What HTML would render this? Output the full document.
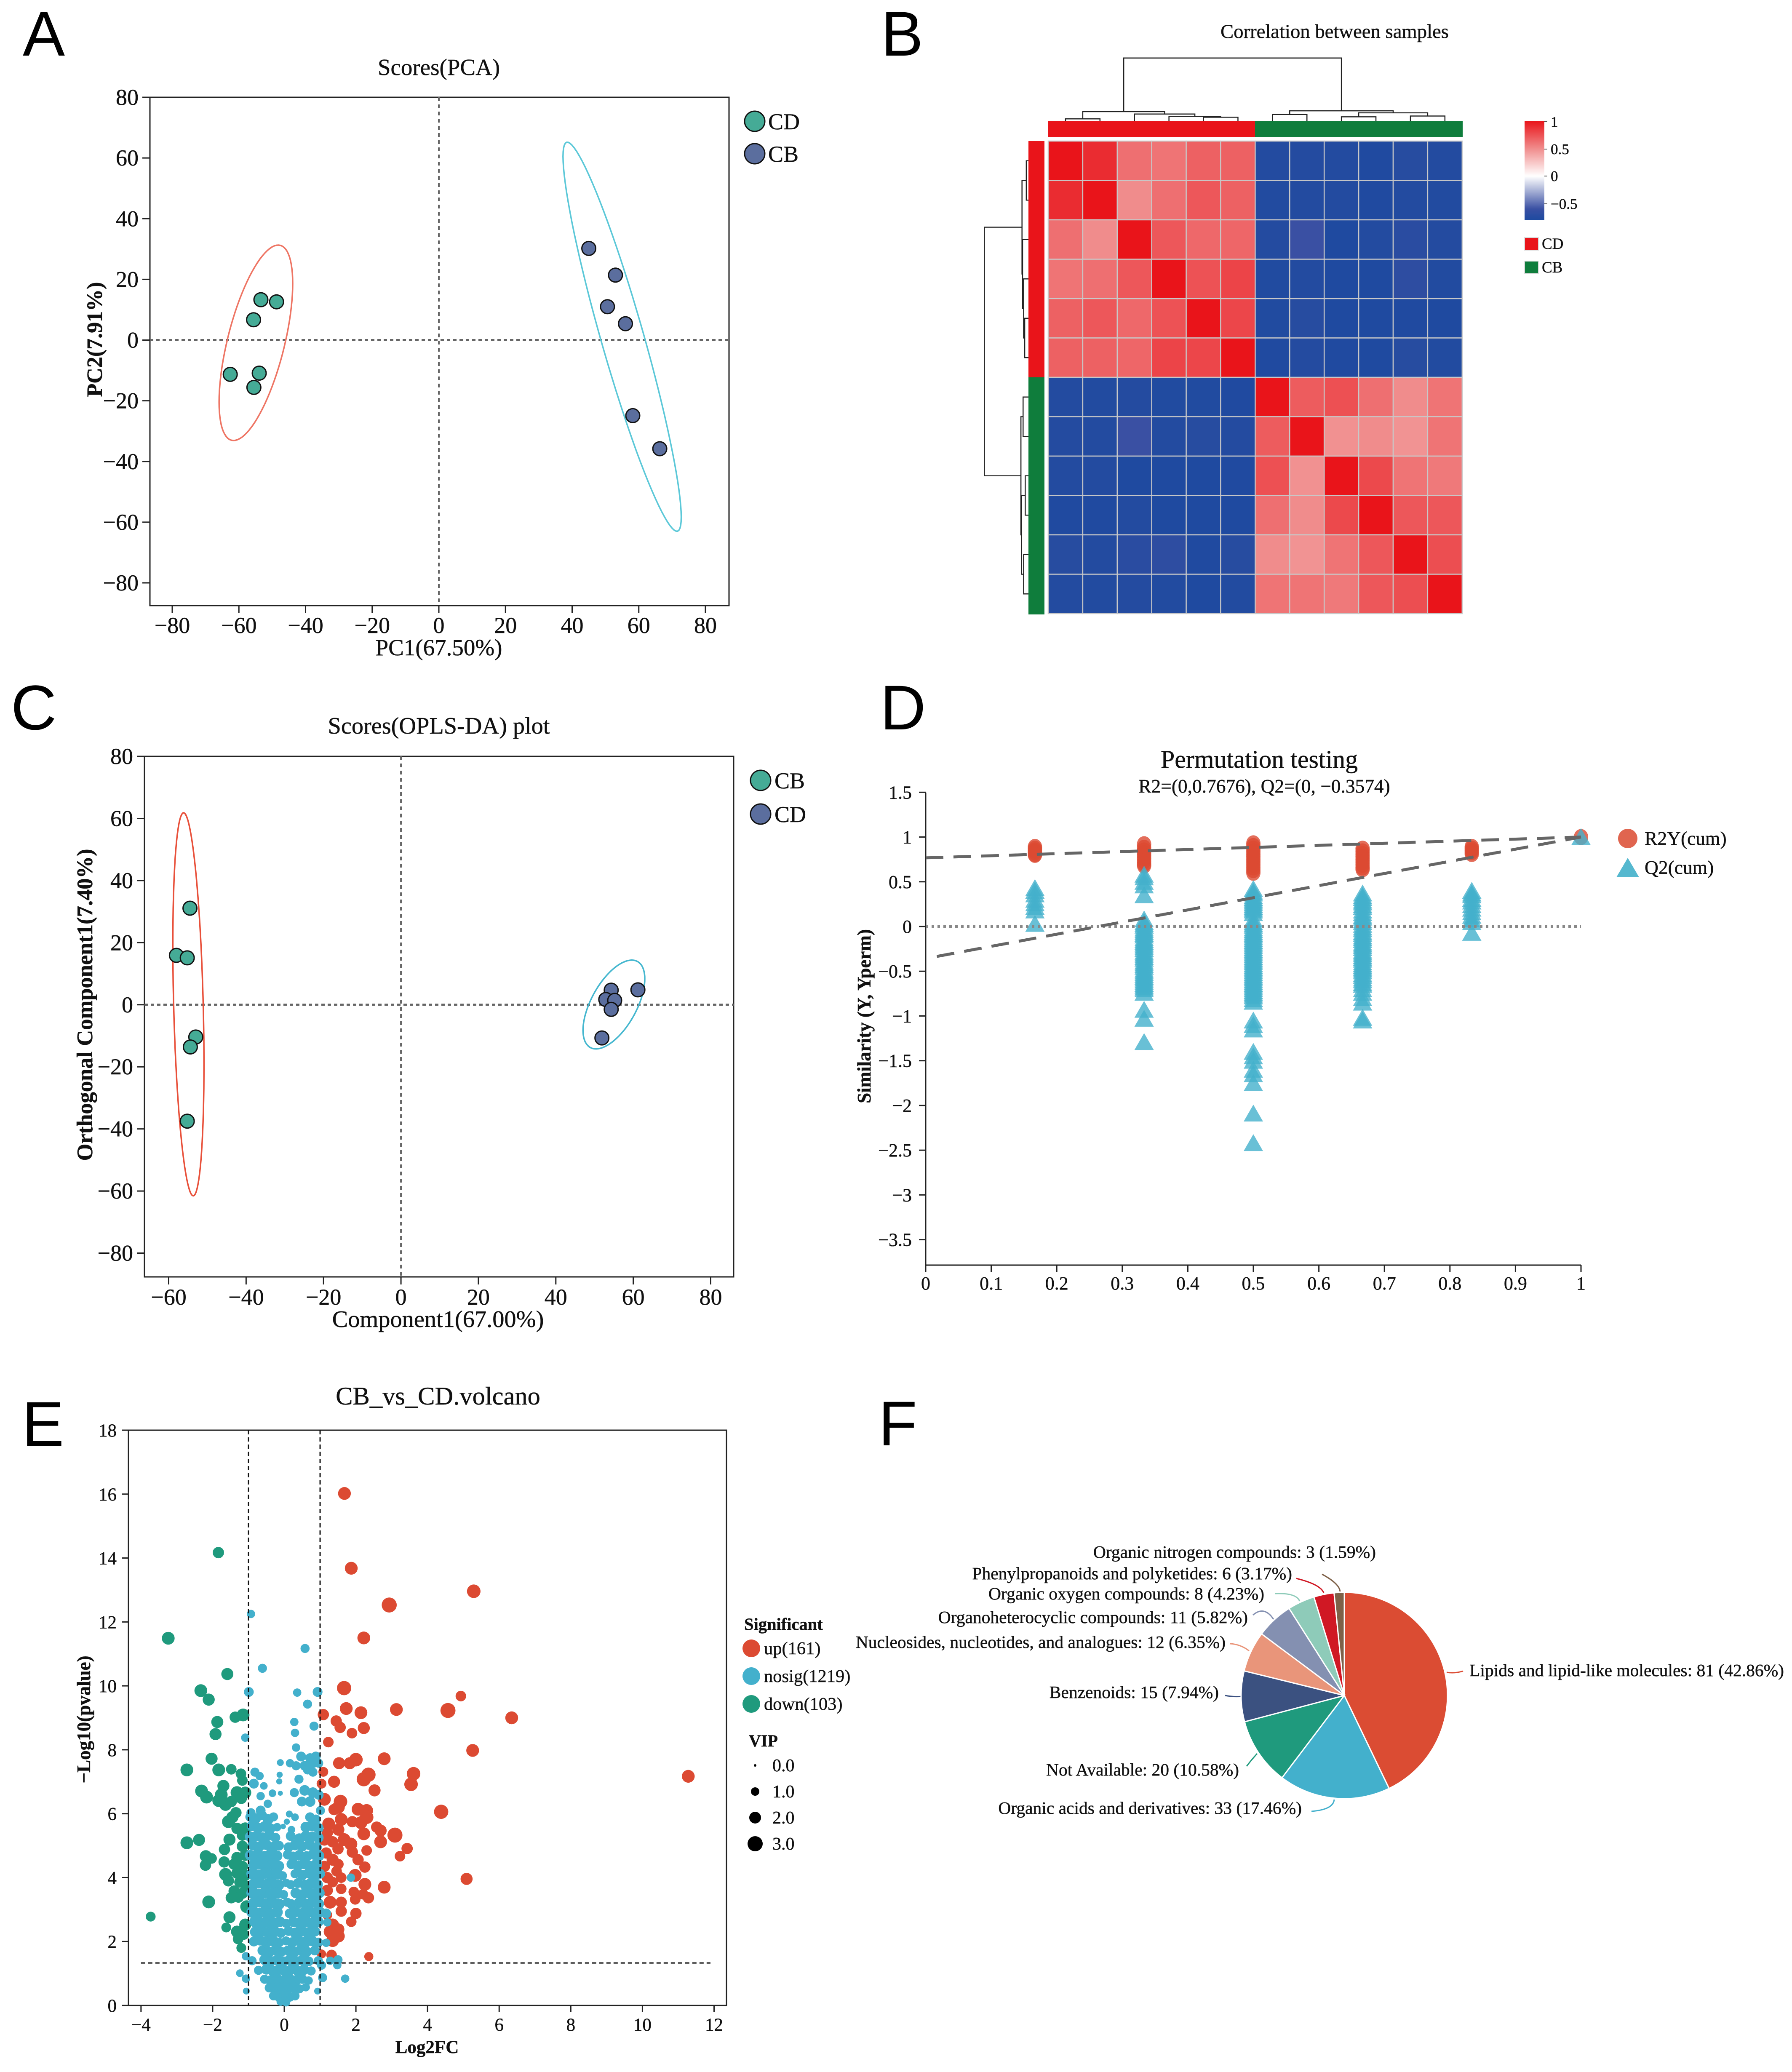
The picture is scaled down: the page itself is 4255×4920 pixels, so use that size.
<!DOCTYPE html>
<html lang="en">
<head>
<meta charset="utf-8">
<title>Metabolomics multi-panel figure</title>
<style>
html,body{margin:0;padding:0;background:#fff;}
svg{display:block;}
text{font-family:"Liberation Serif","Noto Serif CJK SC",serif;fill:#111;stroke:#111;stroke-width:0.5px;}
.letter{font-family:"Liberation Sans","Noto Sans CJK SC",sans-serif;font-size:150px;fill:#000;stroke:none;}
</style>
</head>
<body>
<svg id="figure" xmlns="http://www.w3.org/2000/svg" width="4255" height="4920" viewBox="0 0 4255 4920">
<rect x="0" y="0" width="4255" height="4920" fill="#fff"/>
<defs>
<linearGradient id="cbGrad" x1="0" y1="0" x2="0" y2="1">
<stop offset="0" stop-color="#e9141a"/><stop offset="0.28" stop-color="#f08c8c"/><stop offset="0.558" stop-color="#ffffff"/><stop offset="0.89" stop-color="#3a50a3"/><stop offset="1" stop-color="#1e4aa0"/>
</linearGradient>
</defs>

<!-- Panel A -->
<g id="panelA">
<text class="letter" x="54" y="132">A</text>
<text x="1042" y="178" font-size="55" text-anchor="middle">Scores(PCA)</text>
<rect x="356" y="231" width="1375" height="1207" fill="none" stroke="#222" stroke-width="3"/>
<text x="1042" y="1556" font-size="55" text-anchor="middle">PC1(67.50%)</text>
<text transform="translate(242,806) rotate(-90)" font-size="52" font-weight="bold" text-anchor="middle">PC2(7.91%)</text>
<circle cx="1792" cy="288" r="24" fill="#45ab96" stroke="#111" stroke-width="3"/>
<text x="1824" y="307" font-size="54">CD</text>
<circle cx="1792" cy="365" r="24" fill="#5b6e9e" stroke="#111" stroke-width="3"/>
<text x="1824" y="384" font-size="54">CB</text>
</g>

<!-- Panel B -->
<g id="panelB">
<text class="letter" x="2092" y="132">B</text>
<text x="3169" y="90" font-size="46.7" text-anchor="middle">Correlation between samples</text>
<rect x="2489" y="287" width="491" height="38" fill="#e9141a"/>
<rect x="2980" y="287" width="493" height="38" fill="#0f7d3c"/>
<rect x="2442" y="335" width="38" height="561" fill="#e9141a"/>
<rect x="2442" y="896" width="38" height="563" fill="#0f7d3c"/>
<rect x="3620" y="287" width="47" height="235" fill="url(#cbGrad)"/>
<g stroke="#555" stroke-width="2">
<line x1="3667" x2="3674" y1="289" y2="289"/><line x1="3667" x2="3674" y1="354" y2="354"/><line x1="3667" x2="3674" y1="418" y2="418"/><line x1="3667" x2="3674" y1="484" y2="484"/>
</g>
<text x="3682" y="301" font-size="35">1</text>
<text x="3682" y="366" font-size="35">0.5</text>
<text x="3682" y="430" font-size="35">0</text>
<text x="3682" y="496" font-size="35">−0.5</text>
<rect x="3620" y="564" width="33" height="30" fill="#e9141a" stroke="#ddd" stroke-width="2"/>
<text x="3661" y="591" font-size="37">CD</text>
<rect x="3620" y="620" width="33" height="30" fill="#0f7d3c" stroke="#ddd" stroke-width="2"/>
<text x="3661" y="647" font-size="37">CB</text>
</g>

<!-- Panel C -->
<g id="panelC">
<text class="letter" x="26" y="1732">C</text>
<text x="1042" y="1742" font-size="56.3" text-anchor="middle">Scores(OPLS-DA) plot</text>
<rect x="343" y="1796" width="1399" height="1236" fill="none" stroke="#222" stroke-width="3"/>
<text x="1040" y="3151" font-size="56.4" text-anchor="middle">Component1(67.00%)</text>
<text transform="translate(219,2386) rotate(-90)" font-size="52.5" font-weight="bold" text-anchor="middle">Orthogonal Component1(7.40%)</text>
<circle cx="1806" cy="1853" r="24" fill="#45ab96" stroke="#111" stroke-width="3"/>
<text x="1839" y="1872" font-size="54">CB</text>
<circle cx="1806" cy="1933" r="24" fill="#5b6e9e" stroke="#111" stroke-width="3"/>
<text x="1839" y="1952" font-size="54">CD</text>
</g>

<!-- Panel D -->
<g id="panelD">
<text class="letter" x="2090" y="1732">D</text>
<text x="2990" y="1823" font-size="60" text-anchor="middle">Permutation testing</text>
<text x="3002" y="1882" font-size="45.4" text-anchor="middle">R2=(0,0.7676), Q2=(0, −0.3574)</text>
<line x1="2198" x2="2198" y1="1882" y2="3004" stroke="#222" stroke-width="3"/>
<line x1="2198" x2="3754" y1="3004" y2="3004" stroke="#222" stroke-width="3"/>
<text transform="translate(2067,2413) rotate(-90)" font-size="45" font-weight="bold" text-anchor="middle">Similarity (Y, Yperm)</text>
<circle cx="3865" cy="1991" r="23" fill="#e0654f"/>
<text x="3905" y="2006" font-size="45.5">R2Y(cum)</text>
<polygon points="3865,2037 3892,2083 3838,2083" fill="#55b8cf"/>
<text x="3905" y="2075" font-size="45.5">Q2(cum)</text>
</g>

<!-- Panel E -->
<g id="panelE">
<text class="letter" x="52" y="3433">E</text>
<text x="1040" y="3335" font-size="60.5" text-anchor="middle">CB_vs_CD.volcano</text>
<rect x="305" y="3396" width="1420" height="1366" fill="none" stroke="#222" stroke-width="3"/>
<text x="1014" y="4875" font-size="43" text-anchor="middle" font-weight="bold">Log2FC</text>
<text transform="translate(214,4083) rotate(-90)" font-size="45" font-weight="bold" text-anchor="middle">−Log10(pvalue)</text>
<text x="1767" y="3870" font-size="40.5" font-weight="bold">Significant</text>
<circle cx="1784" cy="3914" r="21" fill="#dc4a32"/>
<text x="1814" y="3928" font-size="42.5">up(161)</text>
<circle cx="1784" cy="3980" r="21" fill="#43b0cc"/>
<text x="1814" y="3994" font-size="42.5">nosig(1219)</text>
<circle cx="1784" cy="4046" r="21" fill="#1f9a7d"/>
<text x="1814" y="4060" font-size="42.5">down(103)</text>
<text x="1778" y="4147" font-size="40" font-weight="bold">VIP</text>
<circle cx="1793" cy="4192" r="3" fill="#000"/>
<text x="1834" y="4206" font-size="42">0.0</text>
<circle cx="1793" cy="4254" r="10" fill="#000"/>
<text x="1834" y="4268" font-size="42">1.0</text>
<circle cx="1793" cy="4316" r="14" fill="#000"/>
<text x="1834" y="4330" font-size="42">2.0</text>
<circle cx="1793" cy="4378" r="18" fill="#000"/>
<text x="1834" y="4392" font-size="42">3.0</text>
</g>

<!-- Panel F -->
<g id="panelF">
<text class="letter" x="2086" y="3432">F</text>
<g font-size="41.5" text-anchor="end">
<text x="3267" y="3699">Organic nitrogen compounds: 3 (1.59%)</text>
<text x="3068" y="3750">Phenylpropanoids and polyketides: 6 (3.17%)</text>
<text x="3002" y="3798">Organic oxygen compounds: 8 (4.23%)</text>
<text x="2963" y="3854">Organoheterocyclic compounds: 11 (5.82%)</text>
<text x="2910" y="3913">Nucleosides, nucleotides, and analogues: 12 (6.35%)</text>
<text x="2894" y="4032">Benzenoids: 15 (7.94%)</text>
<text x="2942" y="4216">Not Available: 20 (10.58%)</text>
<text x="3091" y="4307">Organic acids and derivatives: 33 (17.46%)</text>
<text x="4236" y="3980">Lipids and lipid-like molecules: 81 (42.86%)</text>
</g>
<g fill="none" stroke-width="3">
<path d="M3435,3971 Q3455,3974 3474,3968" stroke="#db4c33"/>
<path d="M3168,4273 Q3166,4297 3114,4301" stroke="#43b0cc"/>
<path d="M2985,4164 Q2972,4178 2960,4194" stroke="#1f9a7d"/>
<path d="M2949,4028 Q2930,4030 2909,4026" stroke="#3b5180"/>
<path d="M2966,3920 Q2945,3904 2920,3903" stroke="#e9957a"/>
<path d="M3024,3845 Q3002,3812 2975,3835" stroke="#8490b1"/>
<path d="M3086,3802 Q3078,3782 3028,3784" stroke="#8ecbb9"/>
<path d="M3143,3782 Q3135,3762 3078,3748" stroke="#d01824"/>
<path d="M3182,3779 Q3180,3760 3139,3738" stroke="#7e6148"/>
</g>
</g>
</svg>

<script>
// ---------- Panel A data ----------
const pcaTicksX = [-80,-60,-40,-20,0,20,40,60,80];
const pcaTicksY = [80,60,40,20,0,-20,-40,-60,-80];
const pcaCdX = [-53.4,-48.7,-55.6,-62.6,-53.9,-55.5];
const pcaCdY = [13.3,12.6,6.7,-11.3,-10.9,-15.6];
const pcaCbX = [45,53,50.6,56,58.2,66.3];
const pcaCbY = [30.2,21.4,11,5.4,-24.9,-35.8];
const pcaCdEllipse = [-54.9,-0.9,11.05,32.2,0.606];
const pcaCbEllipse = [55,1.1,17.74,64.1,-0.927];

// ---------- Panel C data ----------
const oplsTicksX = [-60,-40,-20,0,20,40,60,80];
const oplsTicksY = [80,60,40,20,0,-20,-40,-60,-80];
const oplsCbX = [-54.5,-58,-55.2,-53,-54.4,-55.2];
const oplsCbY = [31.1,15.9,15.1,-10.4,-13.6,-37.5];
const oplsCdX = [61.2,54.3,52.9,55.2,54.3,51.9];
const oplsCdY = [4.8,4.7,1.7,1.4,-1.5,-10.7];
const oplsCbEllipse = [-54.9,0.14,4.02,61.7,-0.31];
const oplsCdEllipse = [55,0.07,7.98,14.3,0.58];

// ---------- Panel B data ----------
const heatValues = [
[1,.9,.62,.6,.68,.68,-.72,-.70,-.72,-.76,-.68,-.72],
[.9,1,.5,.62,.72,.68,-.74,-.72,-.72,-.76,-.72,-.74],
[.62,.5,1,.72,.65,.66,-.70,-.56,-.78,-.72,-.66,-.70],
[.6,.62,.72,1,.74,.8,-.75,-.72,-.78,-.78,-.64,-.74],
[.68,.72,.65,.74,1,.79,-.75,-.68,-.78,-.78,-.76,-.78],
[.68,.68,.66,.8,.79,1,-.76,-.70,-.76,-.78,-.68,-.74],
[-.72,-.74,-.70,-.75,-.75,-.76,1,.7,.75,.62,.5,.6],
[-.70,-.72,-.56,-.72,-.68,-.70,.7,1,.48,.5,.47,.6],
[-.72,-.72,-.78,-.78,-.78,-.76,.75,.48,1,.78,.6,.58],
[-.76,-.76,-.72,-.78,-.78,-.78,.62,.5,.78,1,.72,.72],
[-.68,-.72,-.66,-.64,-.76,-.68,.5,.47,.6,.72,1,.76],
[-.72,-.74,-.70,-.74,-.78,-.74,.6,.6,.58,.72,.76,1]
];
const topDendroMerges = [[0,1,5],[4,5,9],[3,13,11],[2,14,17],[12,15,23],[6,7,16],[8,9,10],[10,11,12],[18,19,20],[17,20,25],[16,21,156]];
const leftDendroMerges = [[0,1,4],[4,5,7],[3,13,9],[2,14,11],[12,15,12],[6,7,10],[8,9,6],[10,11,9],[18,19,13],[17,20,14],[16,21,82]];

// ---------- Panel D data ----------
const permTicksX = [0,0.1,0.2,0.3,0.4,0.5,0.6,0.7,0.8,0.9,1];
const permTicksY = [1.5,1,0.5,0,-0.5,-1,-1.5,-2,-2.5,-3,-3.5];
const permPositions = [0.1667,0.3333,0.5,0.6667,0.8333,1];
const permR2Values = [
[.89,.87,.85,.83,.81,.8],
[.92,.88,.85,.82,.79,.76,.73,.7,.68],
[.93,.9,.87,.84,.81,.78,.75,.72,.69,.66,.63,.6],
[.87,.84,.81,.78,.75,.72,.69,.66,.64],
[.89,.87,.85,.83,.81],
[1]
];
const permQ2Values = [
[.43,.4,.36,.3,.26,.22,.18,.03],
[.58,.55,.5,.46,.35,.08,.05,.03,.01,-.02,-.04,-.06,-.08,-.1,-.13,-.15,-.17,-.19,-.21,-.23,-.25,-.28,-.3,-.32,-.34,-.36,-.39,-.41,-.43,-.45,-.48,-.5,-.52,-.54,-.56,-.58,-.6,-.62,-.64,-.66,-.68,-.7,-.74,-.93,-1.03,-1.29],
[.42,.39,.37,.34,.32,.3,.28,.26,.24,.22,.2,.18,.15,.08,.05,.03,.01,-.02,-.04,-.06,-.08,-.1,-.12,-.14,-.16,-.18,-.2,-.22,-.24,-.26,-.28,-.3,-.32,-.34,-.36,-.38,-.4,-.42,-.44,-.46,-.48,-.5,-.52,-.54,-.56,-.58,-.6,-.62,-.64,-.66,-.68,-.7,-.72,-.74,-.76,-.78,-.81,-.84,-1.05,-1.1,-1.15,-1.4,-1.45,-1.5,-1.6,-1.65,-1.75,-2.09,-2.42],
[.37,.34,.32,.29,.27,.24,.22,.18,.15,.12,.1,.07,.05,.02,-.01,-.03,-.06,-.08,-.11,-.13,-.15,-.18,-.2,-.22,-.24,-.27,-.29,-.31,-.33,-.35,-.37,-.4,-.42,-.44,-.46,-.48,-.5,-.53,-.55,-.58,-.6,-.63,-.65,-.7,-.74,-.8,-.85,-1.02,-1.05],
[.4,.37,.35,.31,.28,.24,.2,.16,.12,.08,.05,-.07],
[1]
];
const permLineR2 = [0.7676,1];
const permLineQ2 = [-0.3574,1];

// ---------- Panel E data ----------
const volcanoTicksX = [-4,-2,0,2,4,6,8,10,12];
const volcanoTicksY = [0,2,4,6,8,10,12,14,16,18];
const volcanoThresholdsX = [-1,1];
const volcanoThresholdY = 1.33;
// points are [log2fc, -log10p, vip]
const volcanoUp = [
[1.68,16.02,3],[1.87,13.68,3],[5.29,12.96,3.2],[2.93,12.53,3.6],[2.22,11.5,3],[1.67,9.93,3.4],[4.93,9.68,2.4],[1.73,9.29,3],[3.13,9.26,3],[4.57,9.23,3.6],[2.14,9.16,3],[1.09,9.1,2.6],[6.35,9,3],[1.45,8.9,2.6],[1.56,8.7,2.6],[2.22,8.68,2.8],[1.89,8.52,2.4],[1.23,8.24,2.4],[5.26,7.98,3],[2.79,7.72,3],[2,7.69,3.2],[1.53,7.58,2.8],[1.83,7.58,2.8],[3.61,7.25,3.2],[2.35,7.22,3.4],[11.28,7.17,3],[2.22,7.08,3.4],[1.09,7.31,2.2],[1.39,7,2.8],[3.54,6.92,3.2],[2.52,6.73,2.8],[1.04,6.94,2.2],[1.12,6.45,3],[1.57,6.38,3.2],[1.51,6.2,3],[2.06,6.14,3],[2.3,6.1,3],[4.38,6.06,3.4],[1.39,6.13,2.6],[2.3,5.89,3.2],[1.59,5.82,3],[1.9,5.75,2.6],[2.14,5.72,3],[1.24,5.68,3],[2.58,5.58,2.6],[2.69,5.47,2.8],[1.51,5.5,2.8],[2.22,5.37,3],[3.09,5.33,3.6],[1.2,5.4,2.6],[1.67,5.19,3],[1.12,5.19,2.8],[2.69,5.12,3],[1.35,5.12,2.6],[1.86,5.05,3],[3.43,4.91,2.6],[2.3,4.85,2.4],[1.5,4.9,2.6],[1.17,4.77,2.6],[1.9,4.8,2.6],[3.23,4.67,2.4],[2.06,4.56,2.6],[1.35,4.56,2.8],[1.51,4.42,2.4],[2.25,4.33,2.6],[1.12,4.35,2.6],[1.46,4.2,2.4],[1.98,4.07,3],[5.09,3.96,2.8],[1.2,4,2.6],[1.59,4,2.4],[1.35,3.86,2.4],[2.25,3.79,3],[2.79,3.7,3],[1.59,3.65,2.4],[1.2,3.6,2.6],[1.94,3.55,2.4],[2.2,3.48,2.4],[2.35,3.37,2.6],[1.98,3.32,2.4],[1.59,3.23,2.6],[1.28,3.23,3],[1.59,2.95,2.6],[2,2.88,2.6],[1.2,2.83,2.2],[1.87,2.62,2.4],[1.35,2.52,3],[1.51,2.38,2.8],[1.28,2.31,3],[1.51,2.17,3],[1.35,2.03,3],[1.04,1.61,2],[1.32,1.58,2.4],[2.36,1.53,2]
];
const volcanoDown = [
[-1.84,14.17,2.6],[-3.24,11.49,3],[-1.59,10.37,2.8],[-2.33,9.85,3],[-2.11,9.57,2.8],[-1.37,9.02,2.6],[-1.15,9.09,3],[-1.87,8.87,2.8],[-1.92,8.49,2.8],[-2.03,7.72,2.8],[-2.72,7.37,3],[-1.83,7.37,3],[-1.48,7.39,2.4],[-1.21,7.25,2.4],[-1.17,7.04,2.4],[-1.7,6.87,2.8],[-2.31,6.71,3],[-2.17,6.52,3],[-1.76,6.59,3],[-1.83,6.41,3],[-1.64,6.29,3],[-1.32,6.66,3],[-1.09,6.66,2.8],[-1.2,6.48,2.6],[-1.48,6.38,2.6],[-1.35,6.03,2.6],[-1.45,5.89,2.8],[-1.56,5.75,3],[-1.32,5.54,2.6],[-1.09,5.54,2.8],[-1.17,5.33,2.6],[-1.53,5.19,2.8],[-2.72,5.09,3],[-2.38,5.18,2.8],[-1.67,4.88,2.6],[-1.17,4.98,2.6],[-1.09,4.7,2.6],[-2.19,4.67,2.8],[-2.03,4.6,2.4],[-1.68,4.49,2.6],[-2.2,4.39,2.6],[-1.32,4.63,2.6],[-1.4,4.42,2.6],[-1.17,4.35,2.6],[-1.64,4.1,3],[-1.32,4.14,2.6],[-1.09,4.07,2.6],[-1.56,3.9,2.6],[-1.24,3.86,2.6],[-1.05,3.72,2.6],[-1.4,3.58,2.6],[-1.17,3.51,2.6],[-1.48,3.37,2.6],[-1.28,3.38,2.4],[-2.11,3.24,3],[-1.05,3.09,3],[-3.73,2.78,2.2],[-1.53,2.76,2.8],[-1.09,2.53,2.8],[-1.62,2.44,2.2],[-1.32,2.31,2.8],[-1.13,2.22,2.4],[-1.29,2.08,2.4],[-1.2,1.8,2.2]
];
const volcanoNosig = [
[-.93,12.25,1.8],[.58,11.17,2],[-.61,10.55,2],[-.99,9.81,2.2],[.36,9.79,1.8],[.93,9.81,2.2],[.65,9.43,2],[.28,8.87,1.8],[.3,8.53,1.8],[.83,8.74,2],[-1.09,8.38,1.8],[.33,8.07,1.8],[-.11,7.6,1.4],[.16,7.58,1.8],[.47,7.79,2.2],[.72,7.74,2.2],[.88,7.79,2.2],[.33,7.5,2],[.57,7.5,2.2],[.8,7.58,2.2],[.96,7.58,2],[.65,7.37,2],[.8,7.3,2],[-.82,7.3,2],[-.69,7.18,1.8],[-.85,6.94,2.2],[-.57,6.87,1.6],[-.13,7.22,1.2],[-.14,7.01,1.2],[-.11,6.64,.9],[-.33,6.64,1.6],[-.66,6.55,1.8],[.41,7.08,2],[.28,6.66,2],[.57,6.73,2.4],[.8,6.66,2.4],[.96,6.59,2.2],[.49,6.38,2.2],[.72,6.38,2.4],[-.46,6.31,1.8],[-.66,6.1,2.2],[-.93,6.03,2],[1.01,6.1,2],[.72,5.89,2.2],[.14,5.99,1.4],[.3,5.89,1.6],[.88,5.82,2.2],
[1.2,2.6,1.8],[1.86,4,1.8],[1.17,1.96,1.8],[1.17,2.88,2.2],[1.5,1.43,2],[1.48,1.26,1.8],[1.7,.84,1.8],[1.07,.87,2],[1.04,1.26,2],[1.28,1.4,1.8],[-1.24,1.01,1.6],[-1.07,.84,1.8],[-1.06,.45,1.4],[.93,.45,1.4],[-1.07,1.54,1.8],
[-.95,5.9,2.2],[-.8,5.85,2.4],[-.62,5.95,2.2],[-.45,5.82,2.4],[-.3,5.9,2],[.07,5.75,1.2],[-.9,5.62,2.4],[-.72,5.55,2.4],[-.55,5.6,2.4],[-.38,5.54,2.2],[-.2,5.58,1.8],[-.03,5.6,1],[.2,5.5,1.6],[.6,5.58,2.4],[.78,5.62,2.4],[.95,5.55,2.4],
[-.95,5.28,2.4],[-.78,5.3,2.4],[-.6,5.25,2.4],[-.42,5.33,2.4],[-.25,5.25,2.2],[.18,5.3,2.2],[.42,5.22,2.4],[.6,5.3,2.4],[.78,5.28,2.4],[.95,5.25,2.4],
[-.88,5.02,2.4],[-.7,4.97,2.4],[-.5,5.03,2.4],[-.32,4.95,2.4],[-.15,5,2.2],[.12,4.95,2.2],[.3,5.02,2.4],[.5,4.98,2.4],[.7,5.03,2.4],[.9,4.95,2.4],
[-.95,4.7,2.4],[-.75,4.72,2.6],[-.55,4.66,2.6],[-.38,4.73,2.6],[-.2,4.68,2.4],[.1,4.72,2.2],[.25,4.65,2.4],[.42,4.7,2.4],[.62,4.66,2.4],[.8,4.73,2.4],[.97,4.68,2.4],
[-.85,4.4,2.6],[-.68,4.44,2.6],[-.5,4.38,2.6],[-.32,4.42,2.6],[-.15,4.36,2.4],[.2,4.42,2.2],[.38,4.37,2.4],[.55,4.43,2.4],[.72,4.36,2.4],[.9,4.42,2.6],
[-.9,4.12,2.6],[-.72,4.08,2.6],[-.55,4.14,2.6],[-.38,4.08,2.6],[-.2,4.12,2.6],[-.05,4.06,2],[.3,4.12,2],[.5,4.08,2.4],[.68,4.14,2.4],[.85,4.08,2.6],[1,4.12,2.2],
[-.85,3.8,2.6],[-.68,3.84,2.6],[-.5,3.78,2.6],[-.33,3.82,2.6],[-.16,3.77,2.6],[.05,3.84,1.8],[.18,3.78,2],[.38,3.83,2.2],[.58,3.77,2.4],[.75,3.82,2.6],[.92,3.78,2.6],
[-.9,3.52,2.6],[-.72,3.48,2.6],[-.55,3.53,2.6],[-.38,3.48,2.6],[-.2,3.52,2.6],[-.02,3.47,2],[.32,3.52,2.4],[.5,3.47,2.4],[.68,3.53,2.6],[.85,3.48,2.6],[.98,3.52,2.4],
[-.85,3.2,2.6],[-.68,3.24,2.6],[-.5,3.18,2.6],[-.33,3.22,2.6],[-.15,3.17,2.6],[.08,3.23,2],[.2,3.17,2.2],[.42,3.22,2.4],[.6,3.17,2.6],[.78,3.23,2.6],[.95,3.18,2.6],
[-.9,2.92,2.6],[-.72,2.88,2.6],[-.55,2.93,2.6],[-.38,2.87,2.6],[-.2,2.92,2.6],[.15,2.88,2.2],[.32,2.93,2.4],[.5,2.87,2.6],[.68,2.92,2.6],[.85,2.88,2.6],[1,2.92,2.4],
[-.82,2.62,2.6],[-.65,2.58,2.6],[-.48,2.63,2.6],[-.3,2.57,2.6],[-.12,2.62,2.4],[.05,2.57,2],[.25,2.62,2.4],[.42,2.58,2.6],[.6,2.63,2.6],[.78,2.57,2.6],[.95,2.62,2.4],
[-.8,2.3,2.6],[-.62,2.34,2.6],[-.45,2.28,2.6],[-.28,2.32,2.6],[-.1,2.27,2.2],[.12,2.33,2.2],[.3,2.27,2.4],[.48,2.33,2.6],[.66,2.27,2.6],[.85,2.32,2.4],
[-.85,2,2.2],[-.68,2.04,2.4],[-.5,1.98,2.6],[-.32,2.03,2.6],[-.15,1.97,2.2],[.05,2.02,2],[.22,1.97,2.4],[.4,2.03,2.4],[.58,1.97,2.6],[.78,2.02,2.4],[.95,1.97,2.2],
[-.6,1.72,2.4],[-.42,1.67,2.4],[-.25,1.73,2.4],[-.08,1.68,2.2],[.1,1.72,2.2],[.28,1.67,2.4],[.45,1.73,2.4],[.62,1.68,2.4],[.85,1.72,2.2],
[-.9,1.4,2],[-.55,1.43,2.4],[-.38,1.38,2.4],[-.2,1.42,2.4],[-.03,1.37,2.4],[.15,1.43,2.4],[.32,1.38,2.4],[.5,1.42,2.4],[.68,1.38,2.2],[.95,1.4,2],
[-.72,1.1,2],[-.5,1.13,2.4],[-.32,1.08,2.4],[-.15,1.12,2.4],[.02,1.07,2.4],[.2,1.13,2.4],[.38,1.08,2.4],[.55,1.12,2.4],[.75,1.08,2],
[-.55,.82,2],[-.38,.78,2.4],[-.2,.83,2.4],[-.03,.78,2.4],[.15,.83,2.4],[.32,.78,2.4],[.5,.83,2.2],[.68,.78,1.8],
[-.42,.55,2],[-.25,.52,2.4],[-.08,.57,2.4],[.08,.52,2.4],[.25,.57,2.4],[.42,.52,2],[.6,.57,1.8],
[-.3,.3,2],[-.15,.27,2.2],[0,.32,2.4],[.15,.27,2.2],[.3,.3,2],[-.1,.12,1.8],[.05,.1,1.8]
];

// ---------- Panel F data ----------
const pieNames = ["lipids","organic-acids","not-available","benzenoids","nucleosides","organoheterocyclic","oxygen","phenylpropanoids","nitrogen"];
const pieCounts = [81,33,20,15,12,11,8,6,3];

// ---------- helpers ----------
const SVGNS = "http://www.w3.org/2000/svg";
function scale(d0,d1,r0,r1){ return function(v){ return r0+(v-d0)*(r1-r0)/(d1-d0); }; }
function fmt(v){ return String(v).replace("-","\u2212"); }

function addEl(parent,tag,name){
  const el = document.createElementNS(SVGNS,tag);
  
  
  parent.appendChild(el);
  return el;
}
function line(parent,name,x1,y1,x2,y2,stroke,w,dash){
  const el = addEl(parent,"line",name);
  el.setAttribute("x1",x1);el.setAttribute("y1",y1);el.setAttribute("x2",x2);el.setAttribute("y2",y2);
  el.setAttribute("stroke",stroke);el.setAttribute("stroke-width",w);
  if(dash) el.setAttribute("stroke-dasharray",dash);
  return el;
}
function label(parent,name,x,y,txt,size,anchor){
  const el = addEl(parent,"text",name);
  el.setAttribute("x",x);el.setAttribute("y",y);
  el.setAttribute("font-size",size);el.setAttribute("text-anchor",anchor);
  el.textContent = txt;
  return el;
}
function circle(parent,name,cx,cy,r,fill,stroke,sw,op){
  const el = addEl(parent,"circle",name);
  el.setAttribute("cx",cx);el.setAttribute("cy",cy);el.setAttribute("r",r);
  el.setAttribute("fill",fill);
  if(stroke){el.setAttribute("stroke",stroke);el.setAttribute("stroke-width",sw);}
  if(op) el.setAttribute("fill-opacity",op);
  return el;
}
function xTicks(parent,prefix,ticks,sx,axisY,len,labelY,size,sw){
  ticks.forEach(function(t){
    line(parent,prefix+"-x-tick",sx(t),axisY,sx(t),axisY+len,"#222",sw);
    label(parent,prefix+"-x-tick-label",sx(t),labelY,fmt(t),size,"middle");
  });
}
function yTicks(parent,prefix,ticks,sy,axisX,len,labelX,size,dy,sw){
  ticks.forEach(function(t){
    line(parent,prefix+"-y-tick",axisX-len,sy(t),axisX,sy(t),"#222",sw);
    label(parent,prefix+"-y-tick-label",labelX,sy(t)+dy,fmt(t),size,"end");
  });
}
function ellipse(parent,name,e,sx,sy,color){
  const delta = Math.acos(e[4]);
  let d = "";
  for(let i=0;i<=90;i++){
    const t = i/90*2*Math.PI;
    const px = sx(e[0]+e[2]*Math.cos(t));
    const py = sy(e[1]+e[3]*Math.cos(t-delta));
    d += (i?"L":"M")+px.toFixed(1)+","+py.toFixed(1);
  }
  const el = addEl(parent,"path",name);
  el.setAttribute("d",d+"Z");
  el.setAttribute("fill","none");el.setAttribute("stroke",color);el.setAttribute("stroke-width",3.5);
}
function scatter(parent,name,xs,ys,sx,sy,fill){
  xs.forEach(function(x,i){
    circle(parent,name,sx(x),sy(ys[i]),16.5,fill,"#111",3);
  });
}

// ---------- Panel A ----------
(function(){
  const g = document.getElementById("panelA");
  const sx = scale(-80,80,409,1675), sy = scale(80,-80,231,1384);
  xTicks(g,"pca",pcaTicksX,sx,1438,18,1503,54,3);
  yTicks(g,"pca",pcaTicksY,sy,356,18,329,54,18,3);
  line(g,"pca-zero-line-vertical",sx(0),231,sx(0),1438,"#666",4,"9 8");
  line(g,"pca-zero-line-horizontal",356,sy(0),1731,sy(0),"#666",5,"8 7");
  ellipse(g,"pca-ellipse-cd",pcaCdEllipse,sx,sy,"#ee7564");
  ellipse(g,"pca-ellipse-cb",pcaCbEllipse,sx,sy,"#5cc8d8");
  scatter(g,"pca-point-cd",pcaCdX,pcaCdY,sx,sy,"#45ab96");
  scatter(g,"pca-point-cb",pcaCbX,pcaCbY,sx,sy,"#5b6e9e");
})();

// ---------- Panel C ----------
(function(){
  const g = document.getElementById("panelC");
  const sx = scale(-60,80,400.5,1687.5), sy = scale(80,-80,1796,2975.5);
  xTicks(g,"oplsda",oplsTicksX,sx,3032,18,3098,54,3);
  yTicks(g,"oplsda",oplsTicksY,sy,343,18,316,54,18,3);
  line(g,"oplsda-zero-line-vertical",sx(0),1796,sx(0),3032,"#666",4,"9 8");
  line(g,"oplsda-zero-line-horizontal",343,sy(0),1742,sy(0),"#666",5,"8 7");
  ellipse(g,"oplsda-ellipse-cb",oplsCbEllipse,sx,sy,"#e8503a");
  ellipse(g,"oplsda-ellipse-cd",oplsCdEllipse,sx,sy,"#45b7cf");
  scatter(g,"oplsda-point-cb",oplsCbX,oplsCbY,sx,sy,"#45ab96");
  scatter(g,"oplsda-point-cd",oplsCdX,oplsCdY,sx,sy,"#5b6e9e");
})();

// ---------- Panel B ----------
(function(){
  const g = document.getElementById("panelB");
  const x0 = 2489, y0 = 335, cw = 81.9, ch = 93.5;
  const stops = [[-.8,[30,74,160]],[-.7,[36,75,160]],[-.55,[60,80,163]],[0,[255,255,255]],[.5,[240,140,140]],[1,[233,20,26]]];
  function heatColor(v){
    for(let i=1;i<stops.length;i++){
      if(v<=stops[i][0]){
        const a=stops[i-1],b=stops[i],f=Math.max(0,(v-a[0])/(b[0]-a[0]));
        return "rgb("+[0,1,2].map(function(k){return Math.round(a[1][k]+(b[1][k]-a[1][k])*f);}).join(",")+")";
      }
    }
    return "rgb(233,20,26)";
  }
  heatValues.forEach(function(row,r){
    row.forEach(function(v,c){
      const el = addEl(g,"rect","heatmap-cell");
      el.setAttribute("x",x0+c*cw);el.setAttribute("y",y0+r*ch);
      el.setAttribute("width",cw);el.setAttribute("height",ch);
      el.setAttribute("fill",heatColor(v));el.setAttribute("stroke","#c8c8c8");el.setAttribute("stroke-width",2.5);
    });
  });
  function dendro(merges,name,leafPos,toDepth,horizontal){
    const nodes = [];
    for(let i=0;i<12;i++) nodes.push({p:leafPos(i),h:0});
    merges.forEach(function(m){
      const a=nodes[m[0]],b=nodes[m[1]],d=toDepth(m[2]),da=toDepth(a.h),db=toDepth(b.h);
      const pts = horizontal
        ? [[da,a.p],[d,a.p],[d,b.p],[db,b.p]]
        : [[a.p,da],[a.p,d],[b.p,d],[b.p,db]];
      const el = addEl(g,"polyline",name);
      el.setAttribute("points",pts.map(function(q){return q.join(",");}).join(" "));
      el.setAttribute("fill","none");el.setAttribute("stroke","#222");el.setAttribute("stroke-width",2.5);
      nodes.push({p:(a.p+b.p)/2,h:m[2]});
    });
  }
  dendro(topDendroMerges,"top-dendrogram-branch",function(i){return x0+cw*(i+.5);},function(h){return 287-h*0.9566;},false);
  dendro(leftDendroMerges,"left-dendrogram-branch",function(i){return y0+ch*(i+.5);},function(h){return 2442-h*1.2755;},true);
})();

// ---------- Panel D ----------
(function(){
  const g = document.getElementById("panelD");
  const sx = scale(0,1,2198,3754), sy = scale(0,-3.5,2200,2943.6);
  xTicks(g,"permutation",permTicksX,sx,3004,16,3062,44,3);
  yTicks(g,"permutation",permTicksY,sy,2198,16,2165,44,15,3);
  permPositions.forEach(function(x,i){
    permR2Values[i].forEach(function(v){
      const el = addEl(g,"ellipse","r2y-point");
      el.setAttribute("cx",sx(x));el.setAttribute("cy",sy(v));el.setAttribute("rx",17);el.setAttribute("ry",19);
      el.setAttribute("fill","#dc4a32");el.setAttribute("fill-opacity","0.8");
    });
  });
  permPositions.forEach(function(x,i){
    permQ2Values[i].forEach(function(v){
      const el = addEl(g,"polygon","q2-point");
      const cx=sx(x),cy=sy(v);
      el.setAttribute("points",cx+","+(cy-21)+" "+(cx+23)+","+(cy+19)+" "+(cx-23)+","+(cy+19));
      el.setAttribute("fill","#43b0cc");el.setAttribute("fill-opacity","0.8");
    });
  });
  line(g,"permutation-zero-line",sx(0),sy(0),sx(1),sy(0),"#888",6,"6 8");
  line(g,"r2-trend-line",sx(0),sy(permLineR2[0]),sx(1),sy(permLineR2[1]),"#666",7,"42 24");
  line(g,"q2-trend-line",sx(0.017),sy(permLineQ2[0]+0.017*(permLineQ2[1]-permLineQ2[0])),sx(1),sy(permLineQ2[1]),"#666",7,"42 24");
})();

// ---------- Panel E ----------
(function(){
  const g = document.getElementById("panelE");
  const sx = scale(0,12,675,1695.5), sy = scale(0,18,4762,3396);
  xTicks(g,"volcano",volcanoTicksX,sx,4762,16,4822,43,3);
  yTicks(g,"volcano",volcanoTicksY,sy,305,16,277,43,15,3);
  function vipR(v){ return 2+4.4*v; }
  function pts(list,name,color){
    list.forEach(function(p){
      circle(g,name,sx(p[0]),sy(p[1]),vipR(p[2]),color);
    });
  }
  pts(volcanoDown,"volcano-point-down","#1f9a7d");
  pts(volcanoUp,"volcano-point-up","#dc4a32");
  pts(volcanoNosig,"volcano-point-nosig","#43b0cc");
  volcanoThresholdsX.forEach(function(t){
    line(g,"volcano-threshold-log2fc",sx(t),3396,sx(t),4762,"#111",3,"10 7");
  });
  line(g,"volcano-threshold-pvalue",sx(-4),sy(volcanoThresholdY),sx(11.9),sy(volcanoThresholdY),"#111",3,"10 7");
})();

// ---------- Panel F ----------
(function(){
  const g = document.getElementById("panelF");
  const colors = ["#db4c33","#43b0cc","#1f9a7d","#3b5180","#e9957a","#8490b1","#8ecbb9","#d01824","#7e6148"];
  const cx=3192, cy=4026, r=245;
  const total = pieCounts.reduce(function(a,b){return a+b;},0);
  let acc = 0;
  pieCounts.forEach(function(c,i){
    const a0 = acc/total*2*Math.PI; acc += c;
    const a1 = acc/total*2*Math.PI;
    const big = (a1-a0)>Math.PI?1:0;
    const el = addEl(g,"path","pie-slice-"+pieNames[i]);
    el.setAttribute("d","M"+cx+","+cy+"L"+(cx+r*Math.sin(a0))+","+(cy-r*Math.cos(a0))+"A"+r+","+r+" 0 "+big+" 1 "+(cx+r*Math.sin(a1))+","+(cy-r*Math.cos(a1))+"Z");
    el.setAttribute("fill",colors[i]);el.setAttribute("stroke","#fff");el.setAttribute("stroke-width",3);
  });
})();
</script>
</body>
</html>
